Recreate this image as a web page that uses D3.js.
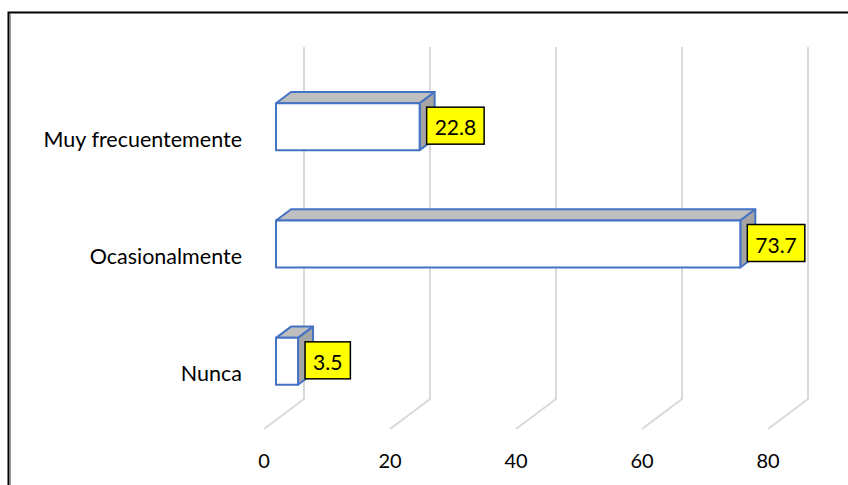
<!DOCTYPE html>
<html>
<head>
<meta charset="utf-8">
<script src="https://cdn.jsdelivr.net/npm/d3@7/dist/d3.min.js"></script>
<style>
  html, body { margin: 0; padding: 0; background: #fff; }
  svg { display: block; }
  text { font-family: Lato, "Open Sans", sans-serif; }
</style>
</head>
<body>
<svg id="chart" width="848" height="485"></svg>
<script>
// Data
const categories = ["Muy frecuentemente", "Ocasionalmente", "Nunca"];
const values = [22.8, 73.7, 3.5];
const tickValues = [0, 20, 40, 60, 80];

const svg = d3.select("#chart");

// Outer frame
svg.append("rect")
  .attr("x", 8.5).attr("y", 12.5)
  .attr("width", 860).attr("height", 500)
  .attr("fill", "#fff")
  .attr("stroke", "#000").attr("stroke-width", 2);
svg.append("line")
  .attr("x1", 10.5).attr("x2", 10.5).attr("y1", 13.5).attr("y2", 485)
  .attr("stroke", "#9a9a9a").attr("stroke-width", 1);

// 3D projection: value along x, category along y (front plane), depth z in [0,1]
const depthDX = 40, depthDY = -30;
const x = d3.scaleLinear().domain([0, 80]).range([264, 768]);
const y = d3.scaleBand().domain(categories).range([77, 429]).paddingInner(0).paddingOuter(0);
const floorFront = 429;
const wallTop = 47;

function proj(v, py, z) {
  return [x(v) + z * depthDX, py + z * depthDY];
}

// Gridlines: back wall verticals + floor diagonals
const grid = svg.append("g");
tickValues.forEach(t => {
  const back = proj(t, floorFront, 1);
  const front = proj(t, floorFront, 0);
  grid.append("path")
    .attr("d", d3.line()([[back[0], wallTop], back, front]))
    .attr("fill", "none")
    .attr("stroke", "#d9d9d9")
    .attr("stroke-width", 2);
});

// Bars (boxes) placed in the middle of the depth
const z0 = 0.3, z1 = 0.675;
const barFrac = 0.4;
const blue = "#4472c4";
const bars = svg.append("g");
categories.forEach((c, i) => {
  const v = values[i];
  const cy = y(c) + y.bandwidth() / 2;
  const h = y.bandwidth() * barFrac;
  const top = cy - h / 2, bot = cy + h / 2;
  const ftl = proj(0, top, z0), ftr = proj(v, top, z0);
  const fbl = proj(0, bot, z0), fbr = proj(v, bot, z0);
  const btl = proj(0, top, z1), btr = proj(v, top, z1);
  const bbr = proj(v, bot, z1);
  // top face
  bars.append("path")
    .attr("d", d3.line()([ftl, ftr, btr, btl]) + "Z")
    .attr("fill", "#bfbfbf").attr("stroke", blue).attr("stroke-width", 2)
    .attr("stroke-linejoin", "round");
  // side face
  bars.append("path")
    .attr("d", d3.line()([ftr, btr, bbr, fbr]) + "Z")
    .attr("fill", "#a5a5a5").attr("stroke", blue).attr("stroke-width", 2)
    .attr("stroke-linejoin", "round");
  // front face
  bars.append("path")
    .attr("d", d3.line()([ftl, ftr, fbr, fbl]) + "Z")
    .attr("fill", "#fff").attr("stroke", blue).attr("stroke-width", 2)
    .attr("stroke-linejoin", "round");

  // Data label box
  const lg = svg.append("g");
  const txt = lg.append("text")
    .attr("font-size", 21)
    .attr("fill", "#000")
    .attr("dominant-baseline", "central")
    .attr("text-anchor", "middle")
    .text(d3.format(".1f")(v));
  const w = txt.node().getComputedTextLength() + 16;
  const bx = fbr[0] + 7;
  const by = (ftr[1] + fbr[1]) / 2 - 1;
  lg.insert("rect", "text")
    .attr("x", bx).attr("y", by - 18.5)
    .attr("width", w).attr("height", 37)
    .attr("fill", "#ffff00").attr("stroke", "#000").attr("stroke-width", 1.5);
  txt.attr("x", bx + w / 2).attr("y", by + 1);
});

// Category labels
svg.append("g").selectAll("text")
  .data(categories)
  .join("text")
  .attr("x", 242)
  .attr("y", d => y(d) + y.bandwidth() / 2 + 3)
  .attr("text-anchor", "end")
  .attr("dominant-baseline", "central")
  .attr("font-size", 21.5)
  .attr("fill", "#000")
  .text(d => d);

// Value axis tick labels
svg.append("g").selectAll("text")
  .data(tickValues)
  .join("text")
  .attr("x", d => x(d))
  .attr("y", 460)
  .attr("text-anchor", "middle")
  .attr("dominant-baseline", "central")
  .attr("font-size", 20)
  .attr("fill", "#000")
  .text(d => d);
</script>
</body>
</html>
